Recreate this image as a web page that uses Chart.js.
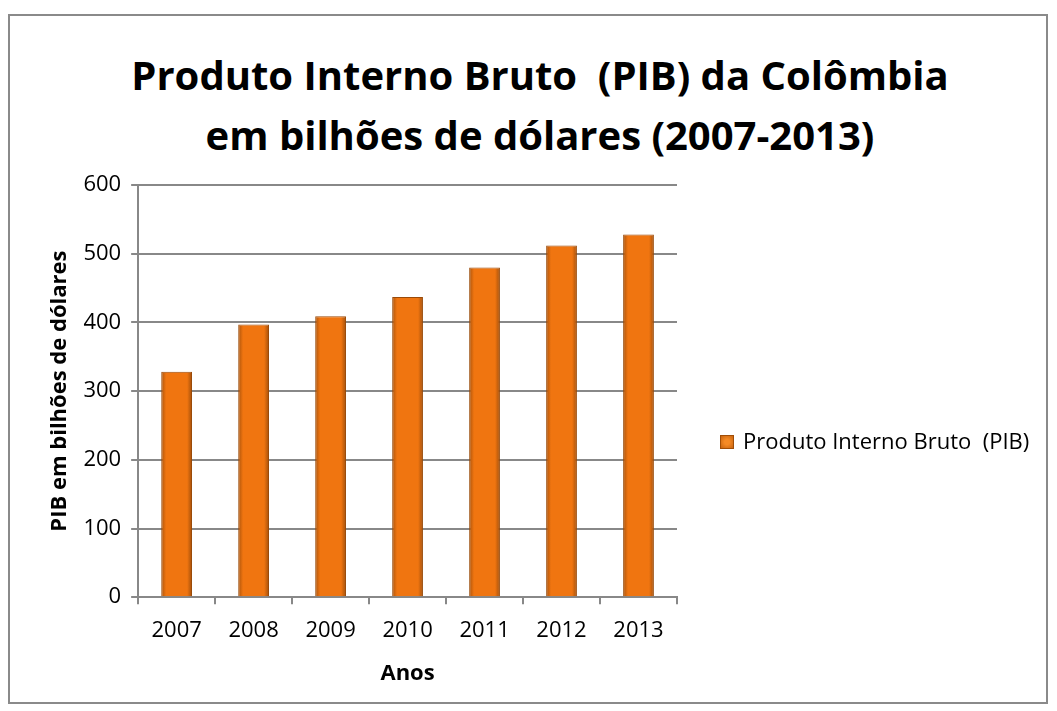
<!DOCTYPE html>
<html>
<head>
<meta charset="utf-8">
<script src="https://cdn.jsdelivr.net/npm/chart.js@4/dist/chart.umd.min.js"></script>
<style>
  html, body { margin: 0; padding: 0; background: #fff; }
  .frame {
    position: absolute; left: 8px; top: 14px; width: 1040px; height: 690px;
    border: 2px solid #8a8a8a; box-sizing: border-box;
  }
  .wrap { position: absolute; left: 0; top: 0; width: 1057px; height: 711px; }
  .title {
    position: absolute; left: 40px; width: 1000px; top: 45px;
    text-align: center; font-family: "Open Sans", sans-serif; font-weight: bold;
    font-size: 40px; line-height: 60px; color: #000; white-space: pre;
  }
  .legend {
    position: absolute; left: 720px; top: 425px; height: 30px;
    font-family: "Open Sans", sans-serif; font-size: 22px; line-height: 30px; color: #000;
    white-space: pre;
  }
  .legend .box {
    display: inline-block; width: 12px; height: 12px; margin-right: 9px; vertical-align: 0px;
    background: radial-gradient(circle, #f58a25 30%, #c8640f 100%);
    border: 1px solid #a04e08;
  }
</style>
</head>
<body>
<div class="frame"></div>
<div class="title">Produto Interno Bruto  (PIB) da Colômbia
em bilhões de dólares (2007-2013)</div>
<div class="wrap"><canvas id="pib-chart" width="1057" height="711"></canvas></div>
<div class="legend"><span class="box"></span>Produto Interno Bruto  (PIB)</div>
<script>
const anos = ["2007", "2008", "2009", "2010", "2011", "2012", "2013"];
const pib = [328, 397, 409, 437, 480, 512, 528];
const yTicks = [0, 100, 200, 300, 400, 500, 600];

const chartEl = document.getElementById("pib-chart");
const font = "Open Sans, Liberation Sans, sans-serif";

// orange bar with darker sides, like the office 3d style
function barFill(ctx) {
  const chart = ctx.chart;
  const xs = chart.scales && chart.scales.x;
  if (!xs || ctx.dataIndex === undefined) return "#f07510";
  const cx = xs.getPixelForValue(ctx.dataIndex);
  if (!isFinite(cx)) return "#f07510";
  const half = 15;
  const g = chart.ctx.createLinearGradient(cx - half, 0, cx + half, 0);
  g.addColorStop(0, "#b0560c");
  g.addColorStop(0.15, "#f07510");
  g.addColorStop(0.85, "#f07510");
  g.addColorStop(1, "#a8520b");
  return g;
}

new Chart(chartEl, {
  type: "bar",
  data: {
    labels: anos,
    datasets: [
      {
        label: "Produto Interno Bruto  (PIB)",
        data: pib,
        backgroundColor: barFill,
        borderColor: "#9a4a08",
        borderWidth: 1,
        barPercentage: 0.4,
        categoryPercentage: 1,
      },
    ],
  },
  options: {
    responsive: false,
    animation: false,
    layout: { padding: { left: 43, right: 380, top: 185, bottom: 24 } },
    scales: {
      y: {
        min: 0,
        max: 600,
        afterBuildTicks: (axis) => {
          axis.ticks = yTicks.map((v) => ({ value: v }));
        },
        ticks: {
          color: "#000",
          font: { family: font, size: 22 },
          padding: 10,
        },
        grid: { color: "#888", lineWidth: 2, tickLength: 7 },
        border: { color: "#888", width: 2 },
        title: {
          display: true,
          text: "PIB em bilhões de dólares",
          color: "#000",
          font: { family: font, size: 22, weight: "bold" },
          padding: { top: 4, bottom: 0 },
        },
      },
      x: {
        ticks: {
          color: "#000",
          font: { family: font, size: 22 },
          padding: 13,
        },
        grid: { display: true, drawOnChartArea: false, color: "#888", lineWidth: 2, tickLength: 7 },
        border: { color: "#888", width: 2 },
        title: {
          display: true,
          text: "Anos",
          color: "#000",
          font: { family: font, size: 22, weight: "bold" },
          padding: { top: 4, bottom: 0 },
        },
      },
    },
    plugins: {
      title: { display: false },
      legend: { display: false },
      tooltip: { enabled: false },
    },
  },
});
</script>
</body>
</html>
